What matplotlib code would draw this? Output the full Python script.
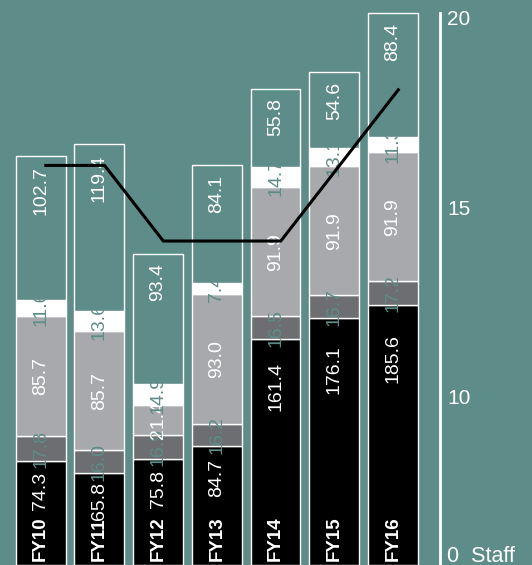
import numpy as np
import matplotlib.pyplot as plt

plt.rcParams['font.family'] = ['Liberation Sans', 'DejaVu Sans']

# data
years = ['FY10', 'FY11', 'FY12', 'FY13', 'FY14', 'FY15', 'FY16']
seg_black = [74.3, 65.8, 75.8, 84.7, 161.4, 176.1, 185.6]
seg_dark = [17.8, 16.0, 16.9, 16.2, 16.5, 16.7, 17.2]
seg_light = [85.7, 85.7, 21.4, 93.0, 91.9, 91.9, 91.9]
seg_white = [11.6, 13.6, 14.9, 7.4, 14.7, 13.1, 11.3]
seg_top = [102.7, 119.4, 93.4, 84.1, 55.8, 54.6, 88.4]
staff = [16.1, 16.1, 14.1, 14.1, 14.1, 16.1, 18.1]

BG = '#5e8c88'
DARK = '#6d6e71'
LIGHT = '#a7a9ac'

fig = plt.figure(figsize=(5.32, 5.65), dpi=100, facecolor=BG)
ax = fig.add_axes([0, 0, 440 / 532, 1])
ax.set_facecolor(BG)
ax.set_xlim(-0.69, 6.8)
ax.set_ylim(0, 403.6)
ax.set_axis_off()

x = np.arange(len(years))
w = 0.85
segs = [(seg_black, '#000000', 'white'),
        (seg_dark, DARK, BG),
        (seg_light, LIGHT, 'white'),
        (seg_white, 'white', BG),
        (seg_top, BG, 'white')]

bottom = np.zeros(len(years))
for k, (vals, col, tcol) in enumerate(segs):
    vals = np.array(vals)
    ax.bar(x, vals, w, bottom=bottom, color=col, edgecolor='white', linewidth=1)
    for i, v in enumerate(vals):
        if k == 0:
            ax.text(x[i], 3.0, years[i], rotation=90, rotation_mode='anchor',
                    ha='left', va='center', color='white', fontsize=13.5, fontweight='bold')
            ax.text(x[i], 0.85 * v - 10, f'{v:.1f}', rotation=90, rotation_mode='anchor',
                    ha='center', va='center', color='white', fontsize=14)
        elif k == 4:
            ax.text(x[i], bottom[i] + v - 7, f'{v:.1f}', rotation=90, rotation_mode='anchor',
                    ha='right', va='center', color=tcol, fontsize=14)
        else:
            ax.text(x[i], bottom[i] + v / 2, f'{v:.1f}', rotation=90, rotation_mode='anchor',
                    ha='center', va='center', color=tcol, fontsize=14)
    bottom += vals

# staff line on right axis
ax2 = ax.twinx()
ax2.set_ylim(5.53, 20.476)
ax2.plot(x + 0.09, staff, color='black', linewidth=2.2, zorder=5)
ax2.set_yticks([10, 15, 20])
ax2.set_yticklabels(['10', '15', '20'], color='white', fontsize=15)
ax2.tick_params(axis='y', length=0, pad=5)
for s in ['top', 'left', 'bottom']:
    ax2.spines[s].set_visible(False)
ax2.spines['right'].set_color('white')
ax2.spines['right'].set_linewidth(2)
ax2.spines['right'].set_bounds(5.53, 20.13)
fig.text(447 / 532, 8 / 565, '0  Staff', color='white', fontsize=15.5, ha='left', va='center')

fig.savefig('out.png', dpi=100, facecolor=BG)
